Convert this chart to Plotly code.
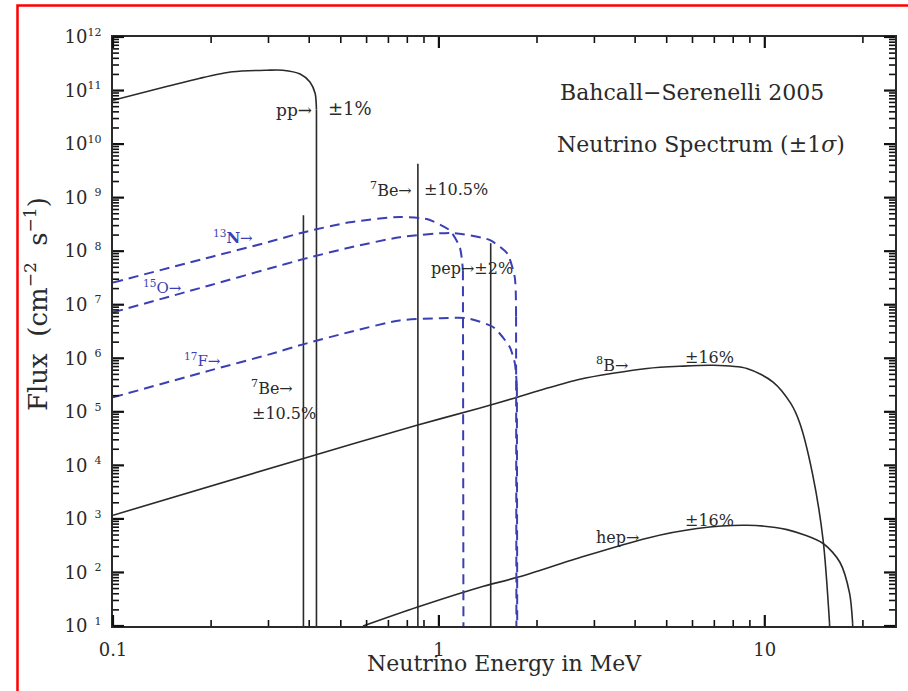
import math
import plotly.graph_objects as go

# ---------------- data ----------------
pp_E = [0.1, 0.147, 0.185, 0.233, 0.297, 0.332, 0.375, 0.402, 0.417, 0.421, 0.421]
pp_F = [6.6e10, 1.2e11, 1.7e11, 2.24e11, 2.4e11, 2.4e11, 2.04e11, 1.45e11, 8.9e10, 4.4e10, 1.0]

n13_E = [0.1, 0.2, 0.3, 0.383, 0.533, 0.758, 0.918, 1.08, 1.16, 1.185, 1.19]
n13_F = [2.6e7, 7.8e7, 1.48e8, 2.24e8, 3.47e8, 4.37e8, 3.98e8, 2.45e8, 1.17e8, 4.4e7, 1.0]

o15_E = [0.1, 0.2, 0.3, 0.383, 0.533, 0.758, 1.1, 1.43, 1.62, 1.71, 1.725, 1.73]
o15_F = [7.2e6, 2.34e7, 4.7e7, 7.1e7, 1.17e8, 1.82e8, 2.19e8, 1.62e8, 9.1e7, 3.2e7, 6.0e6, 1.0]

f17_E = [0.1, 0.2, 0.3, 0.383, 0.533, 0.758, 1.01, 1.22, 1.47, 1.65, 1.71, 1.735, 1.74]
f17_F = [1.86e5, 6.0e5, 1.17e6, 1.82e6, 3.1e6, 5.1e6, 5.6e6, 5.6e6, 3.8e6, 1.62e6, 8.1e5, 3.0e5, 1.0]

b8_E = [0.1, 0.375, 0.856, 1.33, 1.69, 2.14, 2.71, 3.42, 4.35, 5.48, 6.92, 8.81, 10.6, 12.0, 12.8, 14.0, 15.1, 15.8, 15.85]
b8_F = [1.17e3, 1.29e4, 5.6e4, 1.17e5, 1.78e5, 2.75e5, 4.07e5, 5.25e5, 6.46e5, 7.08e5, 7.41e5, 6.46e5, 3.6e5, 1.45e5, 6.2e4, 7.1e3, 4.0e2, 1.12e1, 1.0]

hep_E = [0.585, 0.856, 1.33, 1.74, 2.71, 4.35, 6.2, 8.81, 11.7, 15.1, 17.0, 18.2, 18.6, 18.65]
hep_F = [1.0e1, 2.24e1, 5.25e1, 8.1e1, 1.9e2, 4.37e2, 6.6e2, 7.6e2, 6.3e2, 3.47e2, 1.55e2, 4.1e1, 1.12e1, 1.0]

line_E = [0.384, 0.862, 1.442]
line_F = [4.7e8, 4.3e9, 1.4e8]
line_names = ["7Be", "7Be", "pep"]

y_tick_vals = [1e1, 1e2, 1e3, 1e4, 1e5, 1e6, 1e7, 1e8, 1e9, 1e10, 1e11, 1e12]
y_tick_exp = ["1", "2", "3", "4", "5", "6", "7", "8", "9", "10", "11", "12"]
x_tick_vals = [0.1, 1, 10]
x_tick_text = ["0.1", "1", "10"]
x_minor_vals = [k * d for d in (0.1, 1.0) for k in range(2, 10)] + [20]
y_minor_vals = [k * 10.0 ** n for n in range(1, 12) for k in range(2, 10)]

# ---------------- style ----------------
BLACK = "#2a2a2a"
TICK = "#111111"
BLUE = "#3b3fb3"
FONT = "DejaVu Serif"
W, H = 908, 691
L, R, T, B = 113, 13, 37, 65
PW, PH = W - L - R, H - T - B
XR = [-1, 1.3995]
YR = [1, 12]


def px(x):
    return (x - L) / PW


def py(y):
    return (H - B - y) / PH


fig = go.Figure()

solid = dict(color=BLACK, width=1.6)
solid_s = dict(color=BLACK, width=1.6, shape="spline", smoothing=0.8)
dashed = dict(color=BLUE, width=2.0, dash="10px,6px", shape="spline", smoothing=0.6)
dashed_l = dict(color=BLUE, width=2.0, dash="10px,6px")


def curve(E, F, smooth_line, drop_line):
    # smooth body of the spectrum, straight vertical drop at the endpoint
    fig.add_trace(go.Scatter(x=E[:-1], y=F[:-1], mode="lines", line=smooth_line, hoverinfo="skip"))
    fig.add_trace(go.Scatter(x=E[-2:], y=F[-2:], mode="lines", line=drop_line, hoverinfo="skip"))


curve(pp_E, pp_F, solid_s, solid)
curve(b8_E, b8_F, solid_s, solid)
curve(hep_E, hep_F, solid_s, solid)
for e, f, n in zip(line_E, line_F, line_names):
    fig.add_trace(go.Scatter(x=[e, e], y=[1.0, f], mode="lines", line=solid, name=n))
curve(n13_E, n13_F, dashed, dashed_l)
curve(o15_E, o15_F, dashed, dashed_l)
curve(f17_E, f17_F, dashed, dashed_l)

ytext = []
for ex in y_tick_exp:
    if len(ex) == 1:
        ex = "\u2007" + ex
    ytext.append("10<sup><span style='font-size:11px'>" + ex + "</span></sup>")

axis_common = dict(
    showline=True, linecolor=BLACK, linewidth=2, mirror=True,
    ticks="", showgrid=False, zeroline=False,
    tickfont=dict(family=FONT, size=18, color=BLACK),
)
fig.update_xaxes(type="log", range=XR, tickmode="array", tickvals=x_tick_vals, ticktext=x_tick_text,
                 ticklabelstandoff=6, **axis_common)
fig.update_yaxes(type="log", range=YR, tickmode="array", tickvals=y_tick_vals, ticktext=ytext,
                 ticklabelstandoff=6, **axis_common)

# tick marks (inside, on all four sides), drawn as line shapes in paper space
shapes = []


def add_ticks(vals, axis, length, width):
    for v in vals:
        if axis == "x":
            t = (math.log10(v) - XR[0]) / (XR[1] - XR[0])
            d = length / PH
            for a, b in ((0.0, d), (1.0 - d, 1.0)):
                shapes.append(dict(type="line", xref="paper", yref="paper",
                                   x0=t, x1=t, y0=a, y1=b,
                                   line=dict(color=TICK, width=width)))
        else:
            t = (math.log10(v) - YR[0]) / (YR[1] - YR[0])
            d = length / PW
            for a, b in ((0.0, d), (1.0 - d, 1.0)):
                shapes.append(dict(type="line", xref="paper", yref="paper",
                                   x0=a, x1=b, y0=t, y1=t,
                                   line=dict(color=TICK, width=width)))


add_ticks(x_tick_vals, "x", 11, 2.2)
add_ticks(y_tick_vals, "y", 11, 2.2)
add_ticks(x_minor_vals, "x", 6, 1.6)
add_ticks(y_minor_vals, "y", 6, 1.6)

ann = []


def add(text, x, y, xa="left", size=16, color=BLACK, angle=0):
    ann.append(dict(text=text, x=px(x), y=py(y), xref="paper", yref="paper",
                    xanchor=xa, yanchor="middle", showarrow=False, textangle=angle,
                    font=dict(family=FONT, size=size, color=color)))


add("pp\u2192", 314, 110, xa="right", size=17)
add("\u00b11%", 326, 108, size=18)
add("<sup>7</sup>Be\u2192", 414, 189, xa="right", size=16)
add("\u00b110.5%", 422, 189, size=16)
add("<sup>13</sup><b>N</b>\u2192", 211, 237, size=15, color=BLUE)
add("<sup>15</sup>O\u2192", 141, 287, size=15, color=BLUE)
add("<sup>17</sup>F\u2192", 182, 360, size=15, color=BLUE)
add("<sup>7</sup>Be\u2192", 249, 387, size=16)
add("\u00b110.5%", 250, 414, size=16)
add("pep\u2192\u00b12%", 429, 268, size=16)
add("<sup>8</sup>B\u2192", 594, 365, size=16)
add("\u00b116%", 683, 357, size=16)
add("hep\u2192", 594, 537, size=16)
add("\u00b116%", 683, 520, size=16)
add("Bahcall\u2212Serenelli 2005", 692, 92, xa="center", size=22)
add("Neutrino Spectrum (\u00b11<i>\u03c3</i>)", 701, 145, xa="center", size=22)
add("Neutrino Energy in MeV", 504, 663, xa="center", size=22)
add("Flux  (cm<sup><span style='font-size:17px'>\u22122</span></sup>  s<sup><span style='font-size:17px'>\u22121</span></sup>)",
    37, 304, xa="center", size=26, angle=-90)

shapes.append(dict(type="rect", xref="paper", yref="paper",
                   x0=px(17.5), x1=px(930), y0=py(720), y1=py(5.5),
                   line=dict(color="#ff0000", width=2.5), layer="below"))

fig.update_layout(
    width=W, height=H,
    margin=dict(l=L, r=R, t=T, b=B, autoexpand=False),
    paper_bgcolor="white", plot_bgcolor="white",
    showlegend=False,
    annotations=ann,
    shapes=shapes,
)

fig.write_html("out.html", config={"displayModeBar": False},
               post_script="document.body.style.margin='0';document.body.style.padding='0';")
